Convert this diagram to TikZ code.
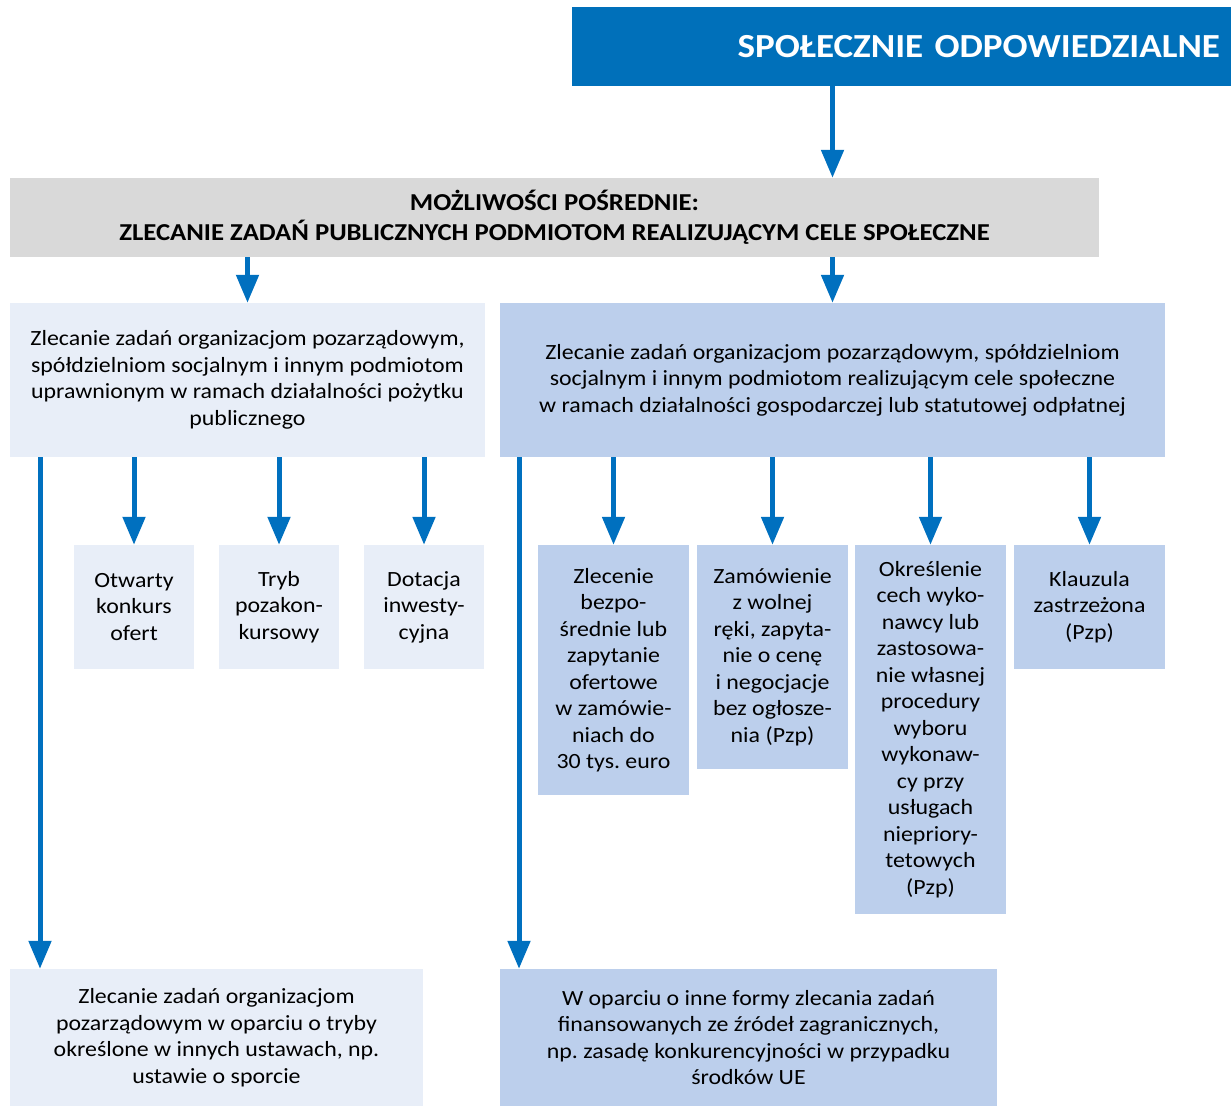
\documentclass[tikz,border=0pt]{standalone}
\usepackage{fontspec}
\setmainfont[FakeStretch=1.1]{Carlito}
\usetikzlibrary{arrows.meta}
\definecolor{topblue}{HTML}{0070BA}
\definecolor{arrblue}{HTML}{0070BF}
\definecolor{hdrgray}{HTML}{D9D9D9}
\definecolor{lightbox}{HTML}{E8EEF8}
\definecolor{midbox}{HTML}{BCCFEC}
\frenchspacing
\begin{document}
\begin{tikzpicture}[x=1pt,y=-1pt,
  box/.style={rectangle, inner sep=0pt, align=center, text=black,
    font=\frenchspacing\fontsize{21.7pt}{26.5pt}\selectfont},
  lbox/.style={box, fill=lightbox},
  mbox/.style={box, fill=midbox},
  arr/.style={draw=arrblue, line width=5pt, -{Triangle[width=22pt,length=28pt]}}]
\useasboundingbox (0,0) rectangle (1231,1106);
% title
\node[box, fill=topblue, text=white, minimum width=659pt, minimum height=79pt,
  text width=637pt, align=right, font=\bfseries\fontsize{33.7pt}{38pt}\selectfont]
  (top) at (901.5,46.5) {SPOŁECZNIE ODPOWIEDZIALNE};
% header
\node[box, fill=hdrgray, minimum width=1089pt, minimum height=79pt,
  font=\bfseries\fontsize{24.3pt}{30pt}\selectfont]
  (hdr) at (554.5,217.5) {MOŻLIWOŚCI POŚREDNIE:\\ZLECANIE ZADAŃ PUBLICZNYCH PODMIOTOM REALIZUJĄCYM CELE SPOŁECZNE};
% second level
\node[lbox, minimum width=475pt, minimum height=154pt] (L1) at (247.5,380)
  {Zlecanie zadań organizacjom pozarządowym,\\spółdzielniom socjalnym i innym podmiotom\\uprawnionym w ramach działalności pożytku\\publicznego};
\node[mbox, minimum width=665pt, minimum height=154pt] (R1) at (832.5,380)
  {Zlecanie zadań organizacjom pozarządowym, spółdzielniom\\socjalnym i innym podmiotom realizującym cele społeczne\\w ramach działalności gospodarczej lub statutowej odpłatnej};
% left small boxes
\node[lbox, minimum width=120pt, minimum height=124pt] (s1) at (134,607) {Otwarty\\konkurs\\ofert};
\node[lbox, minimum width=120pt, minimum height=124pt] (s2) at (279,607) {Tryb\\pozakon-\\kursowy};
\node[lbox, minimum width=120pt, minimum height=124pt] (s3) at (424,607) {Dotacja\\inwesty-\\cyjna};
% right boxes
\node[mbox, minimum width=151pt, minimum height=250pt] (b1) at (613.5,670)
  {Zlecenie\\bezpo-\\średnie lub\\zapytanie\\ofertowe\\w zamówie-\\niach do\\30 tys. euro};
\node[mbox, minimum width=151pt, minimum height=224pt] (b2) at (772.5,657)
  {Zamówienie\\z wolnej\\ręki, zapyta-\\nie o cenę\\i negocjacje\\bez ogłosze-\\nia (Pzp)};
\node[mbox, minimum width=151pt, minimum height=369pt] (b3) at (930.5,729.5)
  {Określenie\\cech wyko-\\nawcy lub\\zastosowa-\\nie własnej\\procedury\\wyboru\\wykonaw-\\cy przy\\usługach\\niepriory-\\tetowych\\(Pzp)};
\node[mbox, minimum width=151pt, minimum height=124pt] (b4) at (1089.5,607)
  {Klauzula\\zastrzeżona\\(Pzp)};
% bottom boxes
\node[lbox, minimum width=413pt, minimum height=137pt] (BL) at (216.5,1037.5)
  {Zlecanie zadań organizacjom\\pozarządowym w oparciu o tryby\\określone w innych ustawach, np.\\ustawie o sporcie};
\node[mbox, minimum width=497pt, minimum height=137pt] (BR) at (748.5,1037.5)
  {W oparciu o inne formy zlecania zadań\\finansowanych ze źródeł zagranicznych,\\np. zasadę konkurencyjności w przypadku\\środków UE};
% connectors
\coordinate (cL) at (40,0);
\coordinate (cR) at (519,0);
\draw[arr] (top.south -| R1.north) -- (hdr.north -| R1.north);
\draw[arr] (hdr.south -| L1.north) -- (L1.north);
\draw[arr] (hdr.south -| R1.north) -- (R1.north);
\draw[arr] (L1.south -| s1.north) -- (s1.north);
\draw[arr] (L1.south -| s2.north) -- (s2.north);
\draw[arr] (L1.south -| s3.north) -- (s3.north);
\draw[arr] (R1.south -| b1.north) -- (b1.north);
\draw[arr] (R1.south -| b2.north) -- (b2.north);
\draw[arr] (R1.south -| b3.north) -- (b3.north);
\draw[arr] (R1.south -| b4.north) -- (b4.north);
\draw[arr] (L1.south -| cL) -- (BL.north -| cL);
\draw[arr] (R1.south -| cR) -- (BR.north -| cR);
\end{tikzpicture}
\end{document}
